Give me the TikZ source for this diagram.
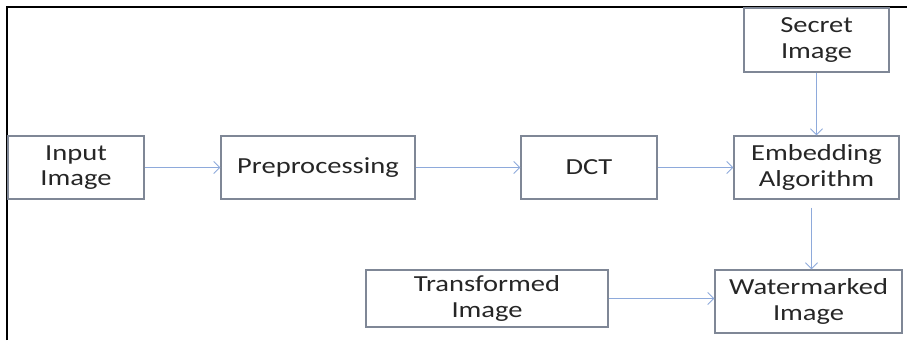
\documentclass[tikz,border=0pt]{standalone}
\usepackage{fontspec}
\setmainfont{Carlito}[FakeStretch=1.24]
\usetikzlibrary{arrows.meta}

\definecolor{boxgray}{HTML}{7F8796}
\definecolor{arrowblue}{HTML}{8EAADB}

\tikzstyle{blockNode} = [rectangle, minimum height=63pt, text centered, align=center, draw=boxgray, line width=1.3pt, inner sep=0pt, text=black!85, font=\fontsize{23}{25.5}\selectfont]
\tikzstyle{arrow} = [arrowblue, line width=0.9pt, -{Straight Barb[length=6pt,width=12pt,line width=0.9pt]}]

\begin{document}
\begin{tikzpicture}[x=1pt, y=-1pt]
    \useasboundingbox (0,0) rectangle (907,340);
    \draw[line width=1.6pt] (7,340) -- (7,7) -- (907,7);

    \node (input)[blockNode, minimum width=136pt] at (76,167.5) {Input\\Image};
    \node (preprocessing)[blockNode, minimum width=194pt] at (318,167.5) {Preprocessing};
    \node (dct)[blockNode, minimum width=136pt] at (589,167.5) {DCT};
    \node (embedding)[blockNode, minimum width=165pt] at (816.5,167.5) {Embedding\\Algorithm};
    \node (secret)[blockNode, minimum width=145pt, minimum height=64pt] at (816.5,40) {Secret\\Image};
    \node (transformed)[blockNode, minimum width=242pt, minimum height=57pt] at (487,298.5) {Transformed\\Image};
    \node (watermarked)[blockNode, minimum width=187pt] at (808.5,301.5) {Watermarked\\Image};

    \draw [arrow] (input) -- (preprocessing);
    \draw [arrow] (preprocessing) -- (dct);
    \draw [arrow] (dct) -- (embedding);
    \draw [arrow] (secret) -- (embedding);
    \draw [arrow] ([xshift=-5pt,yshift=-8pt]embedding.south) -- ([xshift=-5pt]embedding.south |- watermarked.north);
    \draw [arrow] (transformed.east) -- (transformed.east -| watermarked.west);

\end{tikzpicture}
\end{document}
